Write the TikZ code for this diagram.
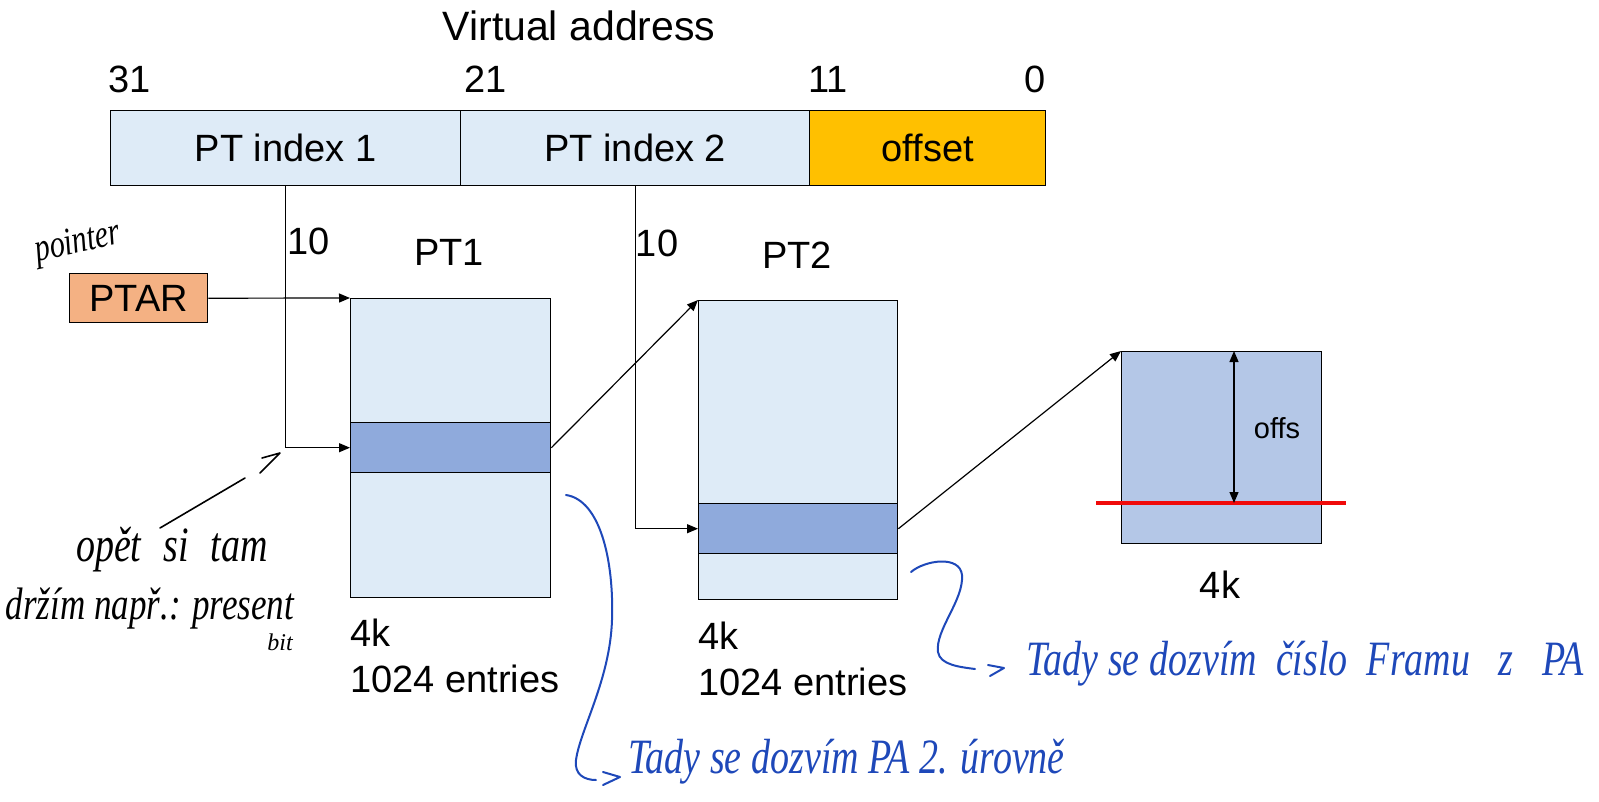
\documentclass[tikz,border=0pt]{standalone}
\usepackage{fontspec}
\setmainfont{Liberation Sans}
\newfontfamily\handfont{Liberation Serif}
\usetikzlibrary{arrows.meta}
\definecolor{lightblue}{HTML}{DEEBF7}
\definecolor{bandblue}{HTML}{8FAADC}
\definecolor{frameblue}{HTML}{B4C7E7}
\definecolor{offorange}{HTML}{FFC000}
\definecolor{ptarorange}{HTML}{F4B183}
\definecolor{inkblue}{RGB}{30,72,185}
\definecolor{redline}{RGB}{240,10,10}
\newcommand{\tall}[1]{\scalebox{1}[1.3]{#1}}
\tikzset{
  big/.style={font=\fontsize{38}{44}\selectfont, inner sep=0pt},
  cell/.style={draw=black, line width=1.4pt, inner sep=0pt, anchor=north west},
  arr/.style={line width=1.2pt, -{Triangle[length=11pt,width=9pt]}},
  darr/.style={line width=1.2pt, {Triangle[length=11pt,width=9pt]}-{Triangle[length=11pt,width=9pt]}},
  hand/.style={line width=2pt, line cap=round, line join=round},
  handtxt/.style={font=\handfont\itshape\fontsize{38}{44}\selectfont, inner sep=0pt},
}
\begin{document}
\begin{tikzpicture}[x=1pt,y=-1pt]
\useasboundingbox (0,0) rectangle (1599,801);
% top bar
\node[font=\fontsize{41}{48}\selectfont, inner sep=0pt] (va) at (579,26) {Virtual address};
\node[big] (b31) at (130,79) {31};
\node[big] (b21) at (486,79) {21};
\node[big] (b11) at (828,79) {11};
\node[big] (b0) at (1035,79) {0};
\node[cell, fill=lightblue, minimum width=350pt, minimum height=75pt] (bar1) at (110,110) {};
\node[cell, fill=lightblue, minimum width=349pt, minimum height=75pt] (bar2) at (460,110) {};
\node[cell, fill=offorange, minimum width=236pt, minimum height=75pt] (bar3) at (809,110) {};
\node[big] at (bar1.center) {PT index 1};
\node[big] at (bar2.center) {PT index 2};
\node[big] at (bar3.center) {offset};
% PTAR
\node[cell, fill=ptarorange, minimum width=138pt, minimum height=49pt] (ptar) at (69,273) {};
\node[big] at (ptar.center) {PTAR};
% PT1
\node[cell, fill=lightblue, minimum width=200pt, minimum height=299pt] (pt1) at (350,298) {};
\node[cell, fill=bandblue, minimum width=200pt, minimum height=50pt] (pt1e) at (350,422) {};
\node[big] (pt1l) at (449,252) {PT1};
\node[big, anchor=west] (pt1k) at (350,633) {4k};
\node[big, anchor=west] (pt1n) at (350,679) {1024 entries};
% PT2
\node[cell, fill=lightblue, minimum width=199pt, minimum height=299pt] (pt2) at (698,300) {};
\node[cell, fill=bandblue, minimum width=199pt, minimum height=50pt] (pt2e) at (698,503) {};
\node[big] (pt2l) at (797,255) {PT2};
\node[big, anchor=west] (pt2k) at (698,636) {4k};
\node[big, anchor=west] (pt2n) at (698,682) {1024 entries};
% frame
\node[cell, fill=frameblue, minimum width=200pt, minimum height=192pt] (frame) at (1121,351) {};
\node[big] (fk) at (1220,585) {4k};
\node[font=\fontsize{29}{34}\selectfont, inner sep=0pt] (offs) at (1277,428) {offs};
\coordinate (redL) at (1096,503);
\coordinate (redR) at (1346,503);
\coordinate (offtop) at (1234,351);
\coordinate (offbot) at (1234,503);
\draw[redline, line width=4pt] (redL) -- (redR);
\draw[darr] (offtop) -- (offbot);
% 10 labels
\node[big] (ten1) at (309,241) {10};
\node[big] (ten2) at (657,243) {10};
% connectors
\draw[arr] (bar1.south) |- (pt1e.west);
\draw[arr] (bar2.south) |- (pt2e.west);
\draw[arr] (ptar.east) -- (pt1.north west);
\draw[arr] (pt1e.east) -- (pt2.north west);
\draw[arr] (pt2e.east) -- (frame.north west);
% handwritten notes (black)
\node[handtxt, font=\handfont\itshape\fontsize{30}{34}\selectfont, rotate=12] (hpointer) at (78,244) {\tall{pointer}};
\node[handtxt] (hopet) at (172,550) {\tall{opět\hspace{22pt}si\hspace{22pt}tam}};
\node[handtxt, font=\handfont\itshape\fontsize{35}{40}\selectfont] (hdrzim) at (150,609) {\tall{držím např.: present}};
\node[handtxt, font=\handfont\itshape\fontsize{24}{28}\selectfont] (hbit) at (280,642) {bit};
\draw[hand, line width=1.6pt] (160,528) -- (245,478);
\draw[hand, line width=1.6pt] (262,458) -- (280,453) -- (260,473);
% handwritten notes (blue)
\draw[hand, inkblue] (566,495) .. controls (600,500) and (614,560) .. (612,620)
  .. controls (610,680) and (580,730) .. (576,760) .. controls (574,775) and (585,780) .. (596,780);
\draw[hand, inkblue] (603,772) -- (620,777) -- (603,785);
\node[handtxt, inkblue, anchor=west] (hpa) at (628,762) {\tall{Tady se dozvím PA 2. úrovně}};
\draw[hand, inkblue] (911,572) .. controls (925,560) and (960,555) .. (962,575)
  .. controls (964,600) and (935,630) .. (938,652) .. controls (940,665) and (960,667) .. (975,669);
\draw[hand, inkblue] (988,665) -- (1004,668) -- (990,676);
\node[handtxt, inkblue, anchor=west] (hframe) at (1026,664) {\tall{Tady se dozvím\ \ číslo\ \ Framu\ \ \ z\ \ \ PA}};
\end{tikzpicture}
\end{document}
